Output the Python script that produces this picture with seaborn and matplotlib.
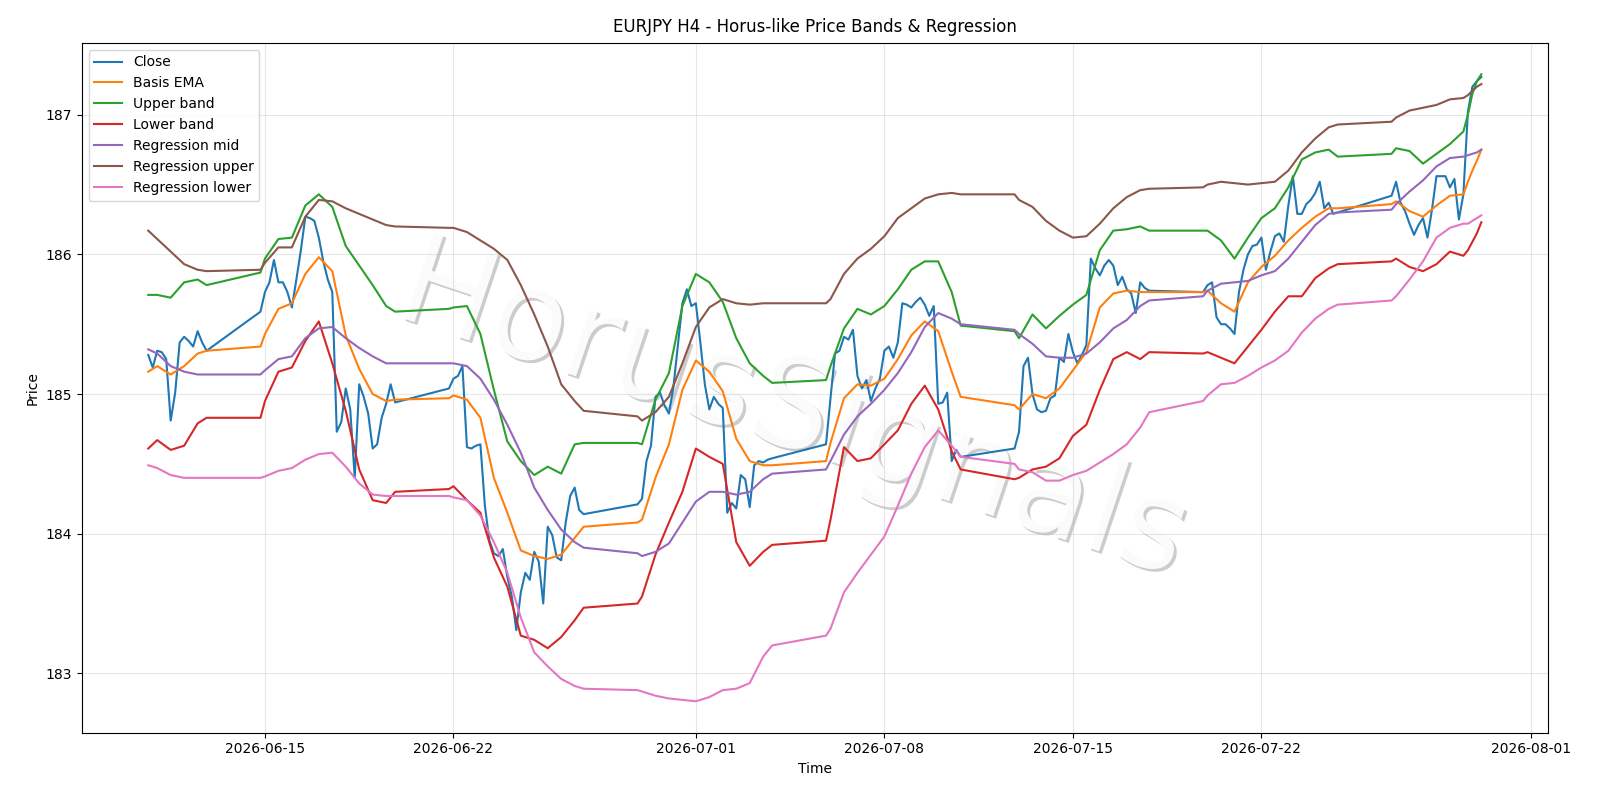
import numpy as np
import pandas as pd

import matplotlib
matplotlib.use('Agg')
import matplotlib.pyplot as plt
import matplotlib.patheffects as pe
import seaborn as sns

# H4 bars: FX week runs Sun 20:00 -> Fri 20:00
bars = pd.date_range("2026-06-10 16:00", "2026-07-30 04:00", freq="4h")
bars = bars[~((bars.dayofweek == 5) | ((bars.dayofweek == 6) & (bars.hour < 20)))]

# indicator values read every 12h (plus weekend edges and the last bars)
keep = (bars.hour % 12 == 0) | ((bars.hour == 20) & bars.dayofweek.isin([4, 6]))
keep[0] = True
keep[-4:] = True
t_ind = bars[keep]

close = [
    185.28, 185.19,                                   # Jun 10
    185.31, 185.30, 185.25, 184.81, 185.01, 185.37,   # Jun 11
    185.41, 185.38, 185.34, 185.45, 185.37, 185.31,   # Jun 12
    185.59,
    185.73, 185.80, 185.96, 185.80, 185.80, 185.73,   # Jun 15
    185.62, 185.82, 186.03, 186.27, 186.26, 186.24,
    186.12, 185.95, 185.82, 185.73, 184.73, 184.80,
    185.04, 184.89, 184.40, 185.07, 184.98, 184.86,
    184.61, 184.64, 184.83, 184.93, 185.07, 184.94,
    185.04,
    185.11, 185.13, 185.20, 184.62, 184.61, 184.63,   # Jun 22
    184.64, 184.20, 183.95, 183.86, 183.84, 183.89,
    183.69, 183.55, 183.31, 183.58, 183.72, 183.67,
    183.87, 183.80, 183.50, 184.05, 183.99, 183.83,
    183.81, 184.08, 184.27, 184.33, 184.17, 184.14,
    184.21,
    184.25, 184.52, 184.63, 184.98, 185.01, 184.92,   # Jun 29
    184.86, 185.05, 185.35, 185.65, 185.75, 185.63,
    185.65, 185.37, 185.07, 184.89, 184.98, 184.93,
    184.90, 184.15, 184.22, 184.18, 184.42, 184.39,
    184.19, 184.49, 184.52, 184.51, 184.53, 184.54,
    184.64,
    184.97, 185.29, 185.31, 185.41, 185.39, 185.46,   # Jul 6
    185.13, 185.04, 185.10, 184.95, 185.04, 185.11,
    185.31, 185.34, 185.26, 185.37, 185.65, 185.64,
    185.62, 185.66, 185.69, 185.64, 185.56, 185.63,
    184.93, 184.94, 185.01, 184.52, 184.60, 184.55,
    184.61,
    184.73, 185.20, 185.26, 185.00, 184.89, 184.87,   # Jul 13
    184.88, 184.97, 184.99, 185.26, 185.23, 185.43,
    185.30, 185.22, 185.28, 185.35, 185.97, 185.90,
    185.85, 185.92, 185.96, 185.92, 185.78, 185.84,
    185.75, 185.72, 185.58, 185.80, 185.76, 185.74,
    185.73,
    185.78, 185.80, 185.55, 185.50, 185.50, 185.47,   # Jul 20
    185.43, 185.73, 185.89, 186.00, 186.06, 186.07,
    186.12, 185.89, 186.02, 186.13, 186.15, 186.09,
    186.35, 186.56, 186.29, 186.29, 186.36, 186.39,
    186.44, 186.52, 186.33, 186.37, 186.29, 186.30,
    186.42,
    186.52, 186.37, 186.31, 186.22, 186.14, 186.21,   # Jul 27
    186.26, 186.12, 186.32, 186.56, 186.56, 186.56,
    186.48, 186.54, 186.25, 186.43, 187.02, 187.20,
    187.24, 187.27,
]

basis_ema = [
    185.16, 185.20, 185.14, 185.20, 185.29, 185.31,
    185.34, 185.43, 185.61, 185.65, 185.86, 185.98, 185.88, 185.42, 185.18, 185.00, 184.95, 184.96,
    184.97, 184.99, 184.96, 184.83, 184.40, 184.15, 183.88, 183.84, 183.82, 183.85, 183.97, 184.05,
    184.08, 184.10, 184.40, 184.64, 185.03, 185.24, 185.16, 185.02, 184.68, 184.52, 184.49, 184.49,
    184.52, 184.65, 184.97, 185.07, 185.06, 185.11, 185.25, 185.42, 185.52, 185.45, 185.16, 184.98,
    184.92, 184.89, 185.00, 184.97, 185.04, 185.17, 185.30, 185.62, 185.72, 185.74, 185.73, 185.73,
    185.73, 185.74, 185.65, 185.59, 185.80, 185.91, 185.99, 186.10, 186.19, 186.27, 186.33, 186.33,
    186.36, 186.38, 186.31, 186.27, 186.35, 186.42, 186.43, 186.52, 186.60, 186.67, 186.75,
]

upper_band = [
    185.71, 185.71, 185.69, 185.80, 185.82, 185.78,
    185.87, 185.97, 186.11, 186.12, 186.35, 186.43, 186.34, 186.06, 185.92, 185.78, 185.63, 185.59,
    185.61, 185.62, 185.63, 185.43, 185.03, 184.66, 184.52, 184.42, 184.48, 184.43, 184.64, 184.65,
    184.65, 184.64, 184.96, 185.15, 185.63, 185.86, 185.80, 185.66, 185.40, 185.22, 185.13, 185.08,
    185.10, 185.20, 185.47, 185.61, 185.57, 185.63, 185.75, 185.89, 185.95, 185.95, 185.73, 185.49,
    185.45, 185.40, 185.57, 185.47, 185.56, 185.64, 185.71, 186.03, 186.17, 186.18, 186.20, 186.17,
    186.17, 186.17, 186.10, 185.97, 186.12, 186.26, 186.33, 186.48, 186.68, 186.73, 186.75, 186.70,
    186.72, 186.76, 186.74, 186.65, 186.72, 186.79, 186.88, 187.00, 187.15, 187.24, 187.29,
]

lower_band = [
    184.61, 184.67, 184.60, 184.63, 184.79, 184.83,
    184.83, 184.95, 185.16, 185.19, 185.38, 185.52, 185.22, 184.88, 184.46, 184.24, 184.22, 184.30,
    184.32, 184.34, 184.24, 184.15, 183.83, 183.62, 183.27, 183.24, 183.18, 183.26, 183.38, 183.47,
    183.50, 183.55, 183.85, 184.08, 184.30, 184.61, 184.55, 184.50, 183.94, 183.77, 183.87, 183.92,
    183.95, 184.10, 184.62, 184.52, 184.54, 184.64, 184.74, 184.93, 185.06, 184.89, 184.59, 184.46,
    184.39, 184.40, 184.46, 184.48, 184.54, 184.70, 184.78, 185.03, 185.25, 185.30, 185.25, 185.30,
    185.29, 185.30, 185.26, 185.22, 185.34, 185.46, 185.59, 185.70, 185.70, 185.83, 185.90, 185.93,
    185.95, 185.97, 185.91, 185.88, 185.93, 186.02, 185.99, 186.03, 186.09, 186.15, 186.23,
]

reg_mid = [
    185.32, 185.29, 185.20, 185.16, 185.14, 185.14,
    185.14, 185.17, 185.25, 185.27, 185.40, 185.47, 185.48, 185.40, 185.33, 185.27, 185.22, 185.22,
    185.22, 185.22, 185.20, 185.11, 184.96, 184.78, 184.58, 184.33, 184.17, 184.03, 183.94, 183.90,
    183.86, 183.84, 183.87, 183.93, 184.08, 184.23, 184.30, 184.30, 184.28, 184.30, 184.39, 184.43,
    184.46, 184.52, 184.71, 184.84, 184.93, 185.03, 185.15, 185.30, 185.48, 185.58, 185.54, 185.50,
    185.46, 185.43, 185.36, 185.27, 185.26, 185.26, 185.29, 185.37, 185.47, 185.53, 185.63, 185.67,
    185.70, 185.74, 185.79, 185.80, 185.81, 185.85, 185.88, 185.97, 186.09, 186.21, 186.29, 186.30,
    186.32, 186.36, 186.45, 186.53, 186.63, 186.69, 186.70, 186.71, 186.72, 186.73, 186.75,
]

reg_upper = [
    186.17, 186.11, 186.02, 185.93, 185.89, 185.88,
    185.89, 185.94, 186.05, 186.05, 186.27, 186.39, 186.38, 186.33, 186.29, 186.25, 186.21, 186.20,
    186.19, 186.19, 186.16, 186.10, 186.04, 185.96, 185.78, 185.57, 185.34, 185.07, 184.95, 184.88,
    184.84, 184.81, 184.87, 184.98, 185.22, 185.48, 185.62, 185.68, 185.65, 185.64, 185.65, 185.65,
    185.65, 185.68, 185.86, 185.97, 186.04, 186.13, 186.26, 186.33, 186.40, 186.43, 186.44, 186.43,
    186.43, 186.39, 186.34, 186.24, 186.17, 186.12, 186.13, 186.22, 186.33, 186.41, 186.46, 186.47,
    186.48, 186.50, 186.52, 186.51, 186.50, 186.51, 186.52, 186.60, 186.73, 186.83, 186.91, 186.93,
    186.95, 186.98, 187.03, 187.05, 187.07, 187.11, 187.12, 187.14, 187.17, 187.20, 187.22,
]

reg_lower = [
    184.49, 184.47, 184.42, 184.40, 184.40, 184.40,
    184.40, 184.41, 184.45, 184.47, 184.53, 184.57, 184.58, 184.48, 184.36, 184.28, 184.27, 184.27,
    184.27, 184.26, 184.24, 184.13, 183.94, 183.72, 183.40, 183.15, 183.05, 182.96, 182.91, 182.89,
    182.88, 182.87, 182.84, 182.82, 182.81, 182.80, 182.83, 182.88, 182.89, 182.93, 183.12, 183.20,
    183.27, 183.32, 183.58, 183.72, 183.85, 183.98, 184.20, 184.43, 184.62, 184.74, 184.63, 184.55,
    184.50, 184.46, 184.44, 184.38, 184.38, 184.42, 184.45, 184.51, 184.57, 184.64, 184.76, 184.87,
    184.95, 184.99, 185.07, 185.08, 185.13, 185.19, 185.24, 185.31, 185.44, 185.54, 185.61, 185.64,
    185.67, 185.70, 185.82, 185.95, 186.12, 186.19, 186.22, 186.22, 186.24, 186.26, 186.28,
]

indicators = [
    ("Basis EMA", basis_ema, "C1"),
    ("Upper band", upper_band, "C2"),
    ("Lower band", lower_band, "C3"),
    ("Regression mid", reg_mid, "C4"),
    ("Regression upper", reg_upper, "C5"),
    ("Regression lower", reg_lower, "C6"),
]

fig, ax = plt.subplots(figsize=(16, 8), dpi=100)
fig.subplots_adjust(left=0.051, right=0.9675, top=0.9464, bottom=0.0842)

# watermark: near-white text with a soft grey drop shadow, under the data
ax.text(0.485, 0.465, "HorusSignals", transform=ax.transAxes, fontsize=91,
        color="white", alpha=0.93, rotation=-18.5, ha="center", va="center",
        zorder=0,
        path_effects=[pe.withSimplePatchShadow(offset=(2, -2), shadow_rgbFace="black", alpha=0.2)])

sns.lineplot(x=bars, y=close, label="Close", color="C0", ax=ax)
for name, vals, col in indicators:
    sns.lineplot(x=t_ind, y=vals, label=name, color=col, ax=ax)

ax.set_title("EURJPY H4 - Horus-like Price Bands & Regression", pad=8)
ax.set_xlabel("Time")
ax.set_ylabel("Price")
ax.grid(True, alpha=0.3)
ax.legend(loc="upper left")
fig.savefig("out.png", dpi=100)
plt.close()
